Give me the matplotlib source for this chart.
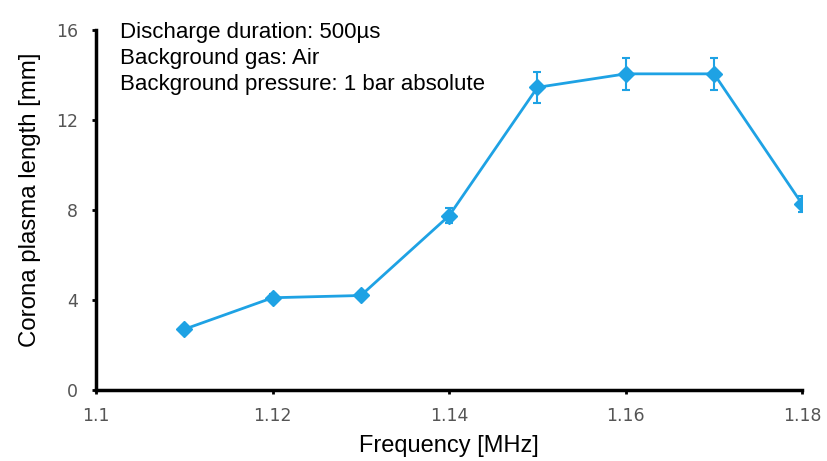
import matplotlib.pyplot as plt

freq = [1.11, 1.12, 1.13, 1.14, 1.15, 1.16, 1.17, 1.18]
length = [2.7, 4.1, 4.2, 7.75, 13.45, 14.05, 14.05, 8.25]
err = [0.15, 0.15, 0.15, 0.35, 0.7, 0.72, 0.72, 0.35]

xticks = [1.1, 1.12, 1.14, 1.16, 1.18]
xticklabels = ['1.1', '1.12', '1.14', '1.16', '1.18']
yticks = [0, 4, 8, 12, 16]

info = ('Discharge duration: 500\u00b5s\n'
        'Background gas: Air\n'
        'Background pressure: 1 bar absolute')

fig = plt.figure(figsize=(8.28, 4.61), dpi=100)
ax = fig.add_axes([0.116, 0.154, 0.853, 0.781])

ax.errorbar(freq, length, yerr=err, color='#1ea2e4', lw=2, marker='D',
            ms=8, elinewidth=1.5, capsize=3, capthick=1.5)

ax.set_xlim(1.1, 1.18)
ax.set_ylim(0, 16)
ax.set_xticks(xticks)
ax.set_xticklabels(xticklabels)
ax.set_yticks(yticks)
ax.tick_params(labelsize=12.5, labelcolor='#555555', length=3, width=2,
               direction='out')
ax.tick_params(axis='x', pad=9)
ax.tick_params(axis='y', pad=10)

for side in ['top', 'right']:
    ax.spines[side].set_visible(False)
for side in ['left', 'bottom']:
    ax.spines[side].set_linewidth(2.5)

ax.set_xlabel('Frequency [MHz]', fontsize=17, family='Liberation Sans')
ax.set_ylabel('Corona plasma length [mm]', fontsize=17.3, family='Liberation Sans')
ax.xaxis.set_label_coords(0.5, -0.125)
ax.yaxis.set_label_coords(-0.078, 0.528)

fig.text(120 / 828, 1 - 22 / 461, info, fontsize=16,
         family='Liberation Sans', va='top', ha='left', linespacing=1.3)

fig.savefig('out.png', dpi=100)
